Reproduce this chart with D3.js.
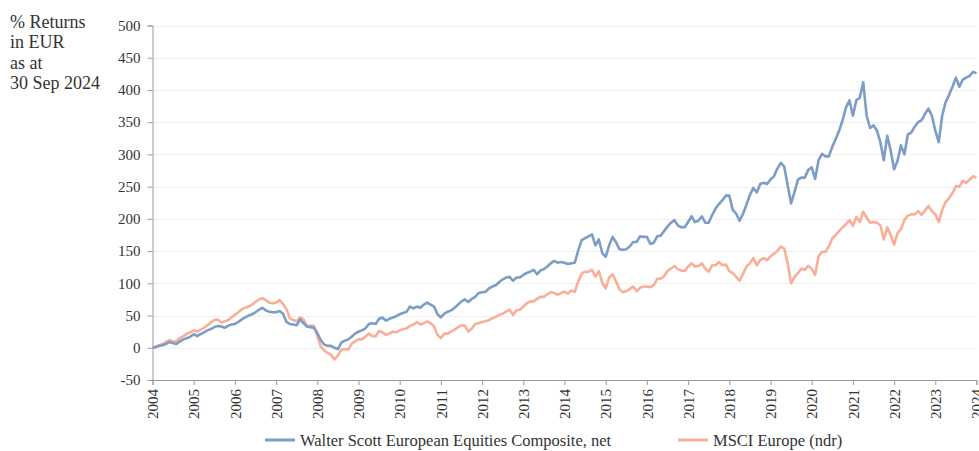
<!DOCTYPE html>
<html>
<head>
<meta charset="utf-8">
<script src="https://cdn.jsdelivr.net/npm/d3@7"></script>
<style>
  html, body { margin: 0; padding: 0; background: #fff; }
  svg { display: block; }
  svg text { font-family: "Liberation Serif", "Times New Roman", serif !important; }
</style>
</head>
<body>
<svg id="chart" width="979" height="451"></svg>
<script>
// ---- Data (monthly, 20 years: index 0 = 2004 tick, 240 = 2024 tick) ----
const years = ["2004","2005","2006","2007","2008","2009","2010","2011","2012","2013","2014",
               "2015","2016","2017","2018","2019","2020","2021","2022","2023","2024"];
const yTicks = [-50, 0, 50, 100, 150, 200, 250, 300, 350, 400, 450, 500];
const seriesNames = ["Walter Scott European Equities Composite, net", "MSCI Europe (ndr)"];
const titleLines = ["% Returns", "in EUR", "as at", "30 Sep 2024"];

const walterScott = [
  0, 1, 3, 4, 6, 9, 7, 6, 10, 13, 15, 17,
  21, 18, 21, 24, 27, 29, 32, 34, 33, 31, 34, 36,
  37, 40, 44, 47, 50, 52, 55, 59, 62, 58, 56, 55,
  55, 57, 53, 40, 37, 36, 35, 44, 38, 33, 32, 31,
  23, 12, 5, 3, 3, 0, -2, 8, 11, 13, 17, 22,
  25, 27, 30, 37, 38, 37, 45, 47, 42, 45, 47, 49,
  52, 54, 56, 64, 61, 64, 62, 67, 70, 67, 64, 52,
  47, 53, 56, 58, 62, 67, 72, 75, 71, 76, 79, 85,
  86, 87, 92, 95, 97, 102, 106, 109, 110, 104, 109, 109,
  113, 116, 118, 121, 114, 120, 122, 126, 131, 135, 132, 133,
  132, 130, 131, 132, 151, 167, 170, 173, 176, 159, 168, 147,
  141, 159, 172, 164, 153, 152, 153, 157, 164, 164, 173, 172,
  172, 161, 163, 173, 174, 181, 188, 194, 198, 190, 187, 187,
  195, 204, 195, 197, 204, 194, 194, 206, 216, 223, 229, 236,
  236, 214, 208, 197, 208, 222, 237, 248, 241, 254, 256, 254,
  261, 266, 278, 287, 281, 252, 224, 242, 261, 264, 264, 276,
  280, 262, 291, 301, 297, 297, 312, 324, 337, 353, 373, 384,
  360, 384, 388, 412, 360, 341, 345, 337, 319, 291, 329, 306,
  277, 290, 314, 300, 331, 334, 343, 350, 353, 363, 371, 360,
  337, 319, 360, 381, 392, 405, 419, 405, 416, 419, 422, 428,
  426
];

const msciEurope = [
  0, 2, 4, 6, 9, 12, 9, 11, 15, 18, 22, 24,
  27, 25, 28, 31, 35, 39, 43, 44, 39, 41, 43, 47,
  51, 55, 60, 62, 64, 67, 71, 75, 77, 74, 70, 69,
  70, 74, 68, 60, 46, 43, 41, 47, 44, 33, 34, 34,
  18, 2, -4, -8, -11, -18, -12, -3, -2, -3, 6, 10,
  13, 13, 17, 22, 18, 18, 26, 24, 20, 22, 25, 24,
  27, 29, 30, 34, 36, 40, 36, 38, 41, 38, 33, 20,
  15, 22, 22, 25, 28, 32, 35, 34, 25, 30, 37, 38,
  40, 41, 43, 46, 48, 51, 53, 56, 59, 51, 58, 59,
  64, 69, 72, 72, 76, 79, 79, 83, 86, 85, 82, 85,
  87, 84, 89, 87, 103, 115, 118, 118, 121, 110, 119, 101,
  92, 109, 114, 103, 91, 86, 88, 91, 95, 88, 93, 95,
  95, 94, 97, 107, 107, 111, 119, 123, 127, 122, 120, 119,
  126, 131, 126, 127, 131, 123, 118, 128, 128, 133, 128, 129,
  119, 116, 110, 104, 115, 126, 131, 139, 128, 136, 139, 136,
  142, 146, 150, 157, 154, 131, 100, 110, 116, 123, 121, 127,
  123, 113, 142, 149, 149, 157, 170, 175, 181, 187, 192, 198,
  189, 203, 195, 211, 202, 194, 195, 194, 190, 168, 187, 175,
  160, 178, 184, 198, 205, 207, 207, 212, 206, 213, 220, 212,
  207, 195, 214, 226, 232, 240, 251, 250, 259, 256, 261, 266,
  264
];

// ---- Layout ----
const colors = ["#7c9dc5", "#f9ae97"];
const serif = "Liberation Serif, Times New Roman, serif";
const svg = d3.select("#chart");
const plotLeft = 152.5, plotRight = 976.5, plotTop = 25.5, plotBottom = 380;

const x = d3.scaleLinear().domain([0, (years.length - 1) * 12]).range([plotLeft, plotRight]);
const y = d3.scaleLinear().domain([-50, 500]).range([plotBottom, plotTop]);

// gridlines
svg.append("g")
  .selectAll("line")
  .data(yTicks.filter(d => d > -50))
  .join("line")
  .attr("x1", plotLeft).attr("x2", plotRight)
  .attr("y1", d => Math.round(y(d)) + 0.5).attr("y2", d => Math.round(y(d)) + 0.5)
  .attr("stroke", "#efefef").attr("stroke-width", 1);

// y axis
const yAxis = svg.append("g")
  .attr("transform", `translate(${plotLeft},0)`)
  .call(d3.axisLeft(y).tickValues(yTicks).tickSize(5).tickPadding(7).tickFormat(d => d));
yAxis.attr("font-family", serif).attr("font-size", 15);
yAxis.select(".domain").attr("stroke", "#9a9a9a");
yAxis.selectAll(".tick line").attr("stroke", "#9a9a9a");
yAxis.selectAll("text").attr("fill", "#333");

// x axis
const xAxis = svg.append("g")
  .attr("transform", `translate(0,${plotBottom})`)
  .call(d3.axisBottom(x).tickValues(years.map((_, i) => i * 12)).tickSize(5).tickFormat((d, i) => years[i]));
xAxis.attr("font-family", serif).attr("font-size", 15);
xAxis.select(".domain").attr("stroke", "#9a9a9a");
xAxis.selectAll(".tick line").attr("stroke", "#9a9a9a");
xAxis.selectAll("text")
  .attr("fill", "#333")
  .attr("text-anchor", "end")
  .attr("transform", "rotate(-90)")
  .attr("x", -9).attr("y", 0).attr("dy", "0.35em");

// lines
const line = d3.line().x((d, i) => x(i)).y(d => y(d)).curve(d3.curveLinear);
[msciEurope, walterScott].forEach((s, k) => {
  svg.append("path")
    .datum(s)
    .attr("fill", "none")
    .attr("stroke", k === 0 ? colors[1] : colors[0])
    .attr("stroke-width", 2.6)
    .attr("stroke-linejoin", "round")
    .attr("d", line);
});

// title
const title = svg.append("text")
  .attr("font-family", serif)
  .attr("font-size", 18).attr("fill", "#333");
titleLines.forEach((t, i) => {
  title.append("tspan").attr("x", 10).attr("y", 28 + i * 20.3).text(t);
});

// legend
const legendX = [265, 678];
seriesNames.forEach((name, i) => {
  const g = svg.append("g").attr("transform", `translate(${legendX[i]},440)`);
  g.append("line").attr("x1", 0).attr("x2", 30).attr("y1", 0).attr("y2", 0)
    .attr("stroke", colors[i]).attr("stroke-width", 3);
  g.append("text").attr("x", 35).attr("y", 0).attr("dy", "0.35em")
    .attr("font-family", serif).attr("font-size", 16.5)
    .attr("fill", "#333").text(name);
});
</script>
</body>
</html>
